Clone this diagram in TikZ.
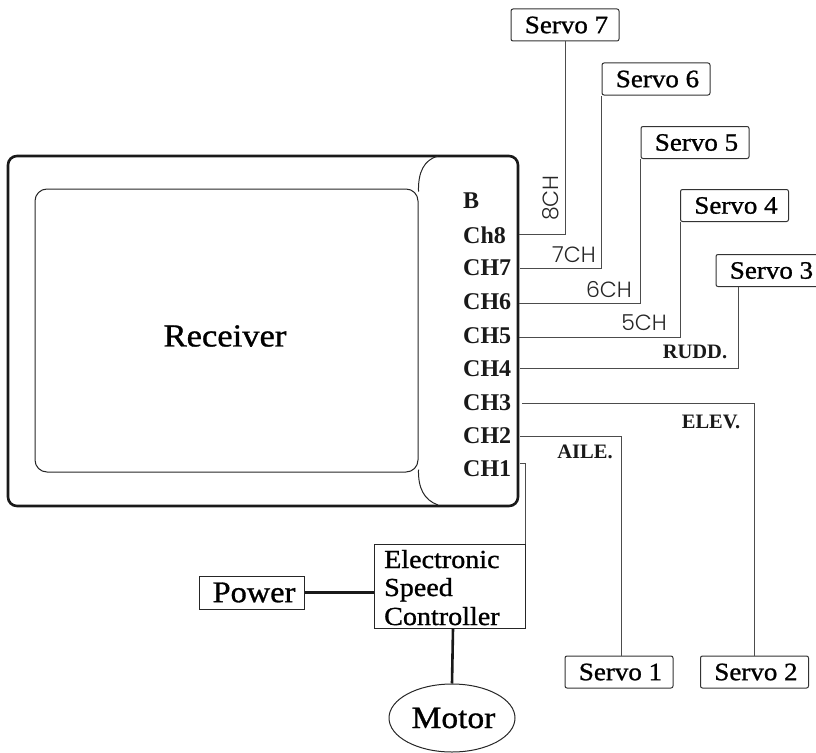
\documentclass[tikz,border=0pt]{standalone}
\usepackage{fontspec}
\setmainfont{Liberation Serif}
\newfontfamily\boxfont[FakeStretch=1.08,FakeBold=1]{Liberation Serif}
\newfontfamily\wirefont{Poppins Light}
\usetikzlibrary{shapes.geometric}

\tikzset{
  servo/.style={draw=black!80, line width=1pt, rounded corners=2pt, inner sep=0pt,
    minimum width=108pt, minimum height=32pt, font=\boxfont\fontsize{25}{28}\selectfont,
    execute at begin node=\hspace{3pt}},
  chan/.style={inner sep=0pt, anchor=west, text=black!90, font=\bfseries\fontsize{24}{26}\selectfont},
  wire/.style={draw=black!70, line width=0.9pt},
  power/.style={draw=black!90, line width=2.6pt},
  wirelabel/.style={inner sep=0pt, text=black!85, font=\wirefont\fontsize{22}{24}\selectfont},
  fnlabel/.style={inner sep=0pt, text=black!90, font=\bfseries\fontsize{20.5}{22}\selectfont},
}

\begin{document}
\begin{tikzpicture}[x=1pt,y=-1pt]
  \useasboundingbox (0,0) rectangle (816,752);
  \clip (0,0) rectangle (816,752);
  % receiver
  \node[draw=black!90, line width=2.6pt, rounded corners=9pt, inner sep=0pt,
    minimum width=510pt, minimum height=350pt] (rx) at (263,331) {};
  \node[draw=black!85, line width=1pt, rounded corners=12pt, inner sep=0pt,
    minimum width=383pt, minimum height=283pt] (screen) at (226.5,330.5) {};
  \node[inner sep=0pt, font=\boxfont\fontsize{32}{36}\selectfont] (rxname) at (225,336) {Receiver};
  \draw[black!85, line width=1pt] (screen.north east) ++(0,3) .. controls (418,172) and (424,160) .. (438,156);
  \draw[black!85, line width=1pt] (screen.south east) ++(0,-3) .. controls (418,488) and (424,500) .. (438,505);

  % channels
  \node[chan] (b) at (463,201) {B};
  \node[chan] (ch8) at (463,235) {Ch8};
  \node[chan] (ch7) at (463,268) {CH7};
  \node[chan] (ch6) at (463,302) {CH6};
  \node[chan] (ch5) at (463,336) {CH5};
  \node[chan] (ch4) at (463,369) {CH4};
  \node[chan] (ch3) at (463,403) {CH3};
  \node[chan] (ch2) at (463,436) {CH2};
  \node[chan] (ch1) at (463,469) {CH1};

  \coordinate (p8) at (519,234);
  \coordinate (p7) at (520,268);
  \coordinate (p6) at (519,303);
  \coordinate (p5) at (519,337);
  \coordinate (p4) at (520,368);
  \coordinate (p3) at (522,403);
  \coordinate (p2) at (520,436);
  \coordinate (p1) at (520,463);

  % servos
  \node[servo] (s7) at (565,25) {Servo 7};
  \node[servo] (s6) at (656,79) {Servo 6};
  \node[servo] (s5) at (695,142.5) {Servo 5};
  \node[servo] (s4) at (734.5,205.5) {Servo 4};
  \node[servo] (s3) at (770,270.5) {Servo 3};
  \node[servo] (s1) at (619,672) {Servo 1};
  \node[servo] (s2) at (754.5,672) {Servo 2};

  % speed controller
  \node[draw=black!85, line width=1pt, inner sep=0pt, minimum width=151pt, minimum height=84pt] (esc) at (449.5,586) {};
  \node[inner sep=0pt, anchor=base west, font=\boxfont\fontsize{26}{28}\selectfont] (esc1) at (384,568) {Electronic};
  \node[inner sep=0pt, anchor=base west, font=\boxfont\fontsize{26}{28}\selectfont] (esc2) at (384,596) {Speed};
  \node[inner sep=0pt, anchor=base west, font=\boxfont\fontsize{26}{28}\selectfont] (esc3) at (384,625) {Controller};
  \node[draw=black!85, line width=1pt, inner sep=0pt, minimum width=105pt, minimum height=33pt,
    execute at begin node=\hspace{5pt}, font=\boxfont\fontsize{30}{32}\selectfont] (pwr) at (251.5,592.5) {Power};
  \node[draw=black!85, line width=1pt, ellipse, inner sep=0pt, minimum width=126pt, minimum height=68pt,
    execute at begin node=\hspace{3pt}, font=\boxfont\fontsize{31}{32}\selectfont] (motor) at (452,718) {Motor};

  % wiring
  \draw[wire] (p8) -| (s7.south);
  \draw[wire] (p7) -| (s6.south west);
  \draw[wire] (p6) -| (s5.south west);
  \draw[wire] (p5) -| (s4.south west);
  \draw[wire] (p4) -| ([xshift=23pt]s3.south west);
  \draw[wire] (p3) -| (s2.north);
  \draw[wire] (p2) -| ([xshift=2.5pt]s1.north);
  \draw[wire] (p1) -| (esc.north east);
  \draw[power] (pwr) -- (esc.west |- pwr);
  \draw[power] (esc.south) ++(3.5,0) -- (motor.north);

  % wire names
  \node[wirelabel, rotate=90] (n8) at (551,198) {8CH};
  \node[wirelabel] (n7) at (574,255) {7CH};
  \node[wirelabel] (n6) at (609,290) {6CH};
  \node[wirelabel] (n5) at (644,323) {5CH};
  \node[fnlabel] (rudd) at (695,352) {RUDD.};
  \node[fnlabel] (elev) at (711,422) {ELEV.};
  \node[fnlabel] (aile) at (585,452) {AILE.};
\end{tikzpicture}
\end{document}
